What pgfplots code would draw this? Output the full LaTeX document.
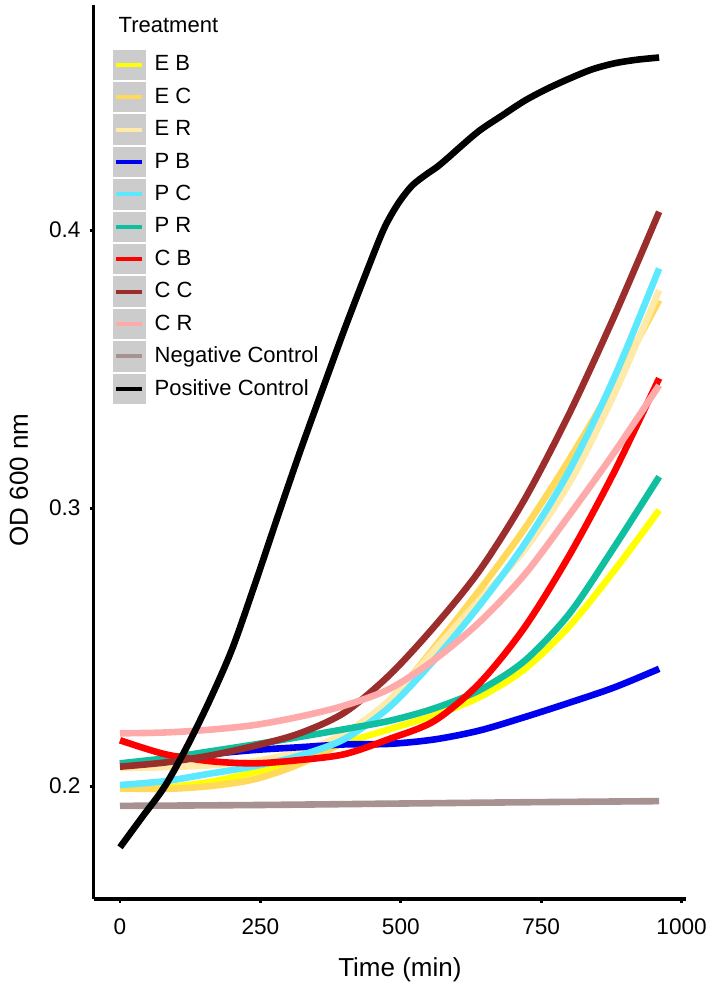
\documentclass[border=0pt]{standalone}
\usepackage{pgfplots}
\pgfplotsset{compat=1.18}
\usepackage{fontspec}
\setmainfont{Liberation Sans}

\definecolor{cEB}{RGB}{255,255,0}
\definecolor{cEC}{RGB}{255,217,90}
\definecolor{cER}{RGB}{255,234,170}
\definecolor{cPB}{RGB}{0,0,240}
\definecolor{cPC}{RGB}{92,232,255}
\definecolor{cPR}{RGB}{16,190,160}
\definecolor{cCB}{RGB}{255,0,0}
\definecolor{cCC}{RGB}{155,45,45}
\definecolor{cCR}{RGB}{255,170,170}
\definecolor{cNeg}{RGB}{168,145,145}
\definecolor{keybg}{RGB}{204,204,204}

\begin{document}
\begin{tikzpicture}
\begin{axis}[
    at={(0,0)}, anchor=south west,
    width=296.25bp, height=447bp, scale only axis,
    xmin=-47, xmax=1008,
    ymin=0.1594, ymax=0.4810,
    axis x line*=bottom, axis y line*=left,
    axis line style={-, line width=1.6bp, black},
    tick align=outside,
    major tick length=2bp,
    tick style={black, line width=1.4bp},
    xtick={0,250,500,750,1000},
    xticklabels={0,250,500,750,1000},
    ytick={0.2,0.3,0.4},
    yticklabels={0.2,0.3,0.4},
    tick label style={font=\fontsize{11.3bp}{13bp}\selectfont, black},
    x tick label style={yshift=-4.5bp},
    y tick label style={xshift=-1bp},
    xlabel={Time (min)},
    ylabel={OD 600 nm},
    label style={font=\fontsize{13bp}{15bp}\selectfont},
    xlabel style={at={(axis description cs:0.517,-0.0794)}, anchor=center},
    ylabel style={at={(axis description cs:-0.1259,0.4687)}, anchor=center},
    legend style={at={(axis description cs:0.027,0.9545)}, anchor=north west,
        draw=none, fill=none, inner sep=0pt, outer sep=0pt, row sep=-2.9bp,
        nodes={inner sep=0.25bp},
        font=\fontsize{11bp}{13bp}\selectfont},
    legend cell align=left,
    legend image code/.code={
        \path (0bp,-7.9bp) (19bp,7.9bp);
        \fill[fill=keybg, draw=none] (0bp,-7.6bp) rectangle (16.5bp,7.6bp);
        \draw[line width=2bp] (1.7bp,0bp) -- (14.8bp,0bp);
    },
    every axis plot/.append style={line width=3.3bp, smooth, line join=round},
    clip=false,
]
% E B
\addplot[color=cEB] coordinates {
    (0,0.1990) (80,0.1995) (160,0.2015) (240,0.2050) (320,0.2095) (400,0.2155)
    (480,0.2205) (560,0.2255) (640,0.2320) (720,0.2420) (800,0.2575)
    (880,0.2775) (960,0.2993)
};
\addlegendentry{E B}
% E C
\addplot[color=cEC] coordinates {
    (0,0.1992) (80,0.1990) (160,0.2000) (240,0.2025) (320,0.2080) (400,0.2165)
    (480,0.2305) (560,0.2500) (640,0.2705) (720,0.2925) (800,0.3175)
    (880,0.3450) (960,0.3748)
};
\addlegendentry{E C}
% E R
\addplot[color=cER] coordinates {
    (0,0.2065) (80,0.2068) (160,0.2075) (240,0.2090) (320,0.2125) (400,0.2190)
    (480,0.2310) (560,0.2490) (640,0.2670) (720,0.2850) (800,0.3090)
    (880,0.3410) (960,0.3784)
};
\addlegendentry{E R}
% P B
\addplot[color=cPB] coordinates {
    (0,0.2080) (80,0.2095) (160,0.2115) (240,0.2130) (320,0.2140) (400,0.2150)
    (480,0.2152) (560,0.2168) (640,0.2200) (720,0.2248) (800,0.2300)
    (880,0.2355) (960,0.2422)
};
\addlegendentry{P B}
% P C
\addplot[color=cPC] coordinates {
    (0,0.2004) (80,0.2018) (160,0.2045) (240,0.2072) (320,0.2110) (400,0.2170)
    (480,0.2285) (560,0.2455) (640,0.2650) (720,0.2870) (800,0.3135)
    (880,0.3470) (960,0.3862)
};
\addlegendentry{P C}
% P R
\addplot[color=cPR] coordinates {
    (0,0.2082) (80,0.2100) (160,0.2125) (240,0.2150) (320,0.2177) (400,0.2205)
    (480,0.2235) (560,0.2280) (640,0.2345) (720,0.2450) (800,0.2620)
    (880,0.2860) (960,0.3113)
};
\addlegendentry{P R}
% C B
\addplot[color=cCB] coordinates {
    (0,0.2165) (80,0.2115) (160,0.2090) (240,0.2082) (320,0.2094) (400,0.2115)
    (480,0.2170) (560,0.2235) (640,0.2370) (720,0.2570) (800,0.2830)
    (880,0.3130) (960,0.3467)
};
\addlegendentry{C B}
% C C
\addplot[color=cCC] coordinates {
    (0,0.2070) (80,0.2085) (160,0.2110) (240,0.2145) (320,0.2190) (400,0.2265)
    (480,0.2400) (560,0.2575) (640,0.2775) (720,0.3030) (800,0.3340)
    (880,0.3690) (960,0.4066)
};
\addlegendentry{C C}
% C R
\addplot[color=cCR] coordinates {
    (0,0.2190) (80,0.2193) (160,0.2203) (240,0.2220) (320,0.2250) (400,0.2290)
    (480,0.2350) (560,0.2455) (640,0.2590) (720,0.2760) (800,0.2975)
    (880,0.3200) (960,0.3442)
};
\addlegendentry{C R}
% Negative Control
\addplot[color=cNeg] coordinates {
    (0,0.1929) (240,0.1932) (480,0.1937) (720,0.1942) (960,0.1946)
};
\addlegendentry{Negative Control}
% Positive Control
\addplot[color=black] coordinates {
    (0,0.1780) (40,0.1890) (80,0.2000) (120,0.2145) (160,0.2310) (200,0.2495)
    (240,0.2725) (280,0.2965) (320,0.3200) (360,0.3424) (400,0.3645)
    (440,0.3855) (470,0.4005) (495,0.4095) (520,0.4160) (545,0.4200)
    (565,0.4228) (585,0.4262) (605,0.4298) (640,0.4358) (680,0.4412)
    (720,0.4465) (760,0.4508) (800,0.4545) (840,0.4578) (880,0.4600)
    (920,0.4613) (960,0.4621)
};
\addlegendentry{Positive Control}
\node[anchor=base west, font=\fontsize{11bp}{13bp}\selectfont]
    at (axis description cs:0.0305,0.9687) {Treatment};
\end{axis}
\pgfresetboundingbox
\useasboundingbox (-46.8bp,-44.5bp) rectangle (307.7bp,449.5bp);
\end{tikzpicture}
\end{document}
